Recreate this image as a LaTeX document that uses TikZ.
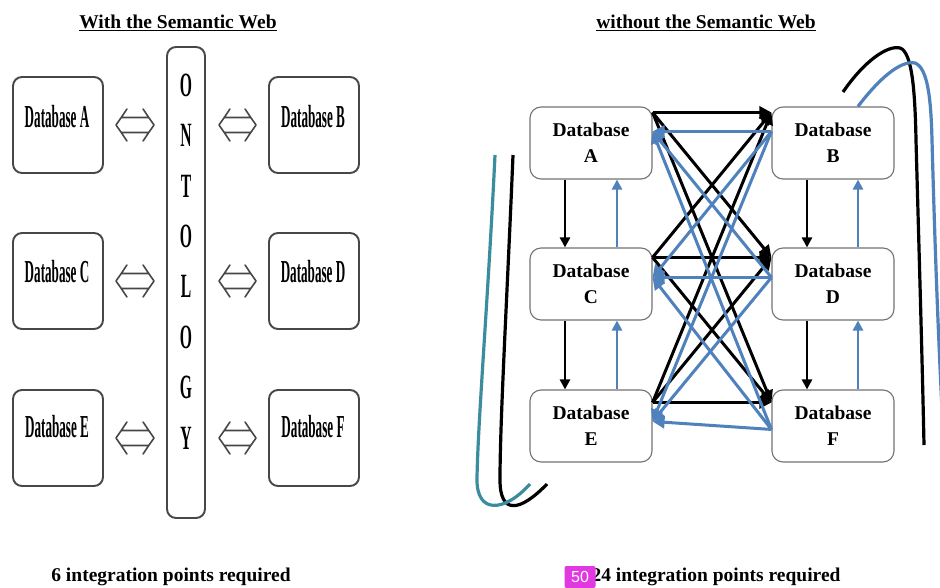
\documentclass[tikz,border=0pt]{standalone}
\usepackage{fontspec}
\setmainfont{Liberation Serif}
\newfontfamily\badgefont{Liberation Sans}
\usepackage{graphicx}
\usetikzlibrary{arrows.meta,calc}
\definecolor{dbblue}{RGB}{79,129,189}
\definecolor{dbteal}{RGB}{60,140,160}
\definecolor{badgecol}{RGB}{226,56,226}
\newcommand{\narrowtxt}[2][0.41]{\scalebox{#1}[1]{#2}}
\begin{document}
\begin{tikzpicture}[x=1pt,y=-1pt,
  lbox/.style={draw=black!72, line width=1.9pt, rounded corners=9pt, minimum width=90pt, minimum height=96pt, inner sep=0pt},
  ltext/.style={font=\bfseries\fontsize{32}{36}\selectfont, inner sep=0pt},
  ontbox/.style={draw=black!72, line width=1.9pt, rounded corners=9pt, minimum width=38pt, minimum height=471pt, inner sep=0pt},
  ontl/.style={font=\bfseries\fontsize{34}{50.4}\selectfont, align=center, inner sep=0pt},
  dblar/.style={draw=black!72, line width=1.6pt, line join=round, line cap=round,
    to path={let \p1=(\tikztostart), \p2=(\tikztotarget) in
      (\x1+11pt,\y1+16pt) .. controls (\x1+5pt,\y1+7pt) .. (\x1,\y1) .. controls (\x1+5pt,\y1-7pt) .. (\x1+11pt,\y1-16pt)
      (\x2-11pt,\y1+16pt) .. controls (\x2-5pt,\y1+7pt) .. (\x2,\y1) .. controls (\x2-5pt,\y1-7pt) .. (\x2-11pt,\y1-16pt)
      (\x1+5.5pt,\y1+7.5pt) -- (\x2-5.5pt,\y1+7.5pt)
      (\x1+5.5pt,\y1-7.5pt) -- (\x2-5.5pt,\y1-7.5pt)}},
  rbox/.style={draw=black!55, line width=1.1pt, rounded corners=11pt, fill=white, minimum width=122pt, minimum height=72pt, align=center, font=\bfseries\fontsize{19.5}{26}\selectfont, inner sep=0pt},
  blk/.style={draw=black, line width=3pt, -{Triangle[length=12pt,width=12pt]}},
  blu/.style={draw=dbblue, line width=3pt, -{Triangle[length=12pt,width=12pt]}},
  vblk/.style={draw=black, line width=2.6pt, -{Triangle[length=10pt,width=10pt]}},
  vblu/.style={draw=dbblue, line width=2.6pt, -{Triangle[length=10pt,width=10pt]}},
  curveblk/.style={draw=black, line width=3.2pt},
  curveblu/.style={draw=dbblue, line width=3.2pt},
  curveteal/.style={draw=dbteal, line width=3.2pt},
  titletxt/.style={font=\bfseries\fontsize{19.5}{22}\selectfont, inner sep=0pt},
  foottxt/.style={font=\bfseries\fontsize{19.5}{22}\selectfont, inner sep=0pt},
  badgebox/.style={fill=badgecol, text=white, font=\badgefont\fontsize{16}{18}\selectfont, minimum width=31pt, minimum height=22pt, inner sep=0pt, rounded corners=2pt},
]
\fill[white] (0,0) rectangle (940,588);
\clip (0,0) rectangle (940,588);

% ---------- titles ----------
\node[titletxt] (t1) at (178,23) {\underline{With the Semantic Web}};
\node[titletxt] (t2) at (706,23) {\underline{without the Semantic Web}};

% ---------- left: with ontology ----------
\node[lbox] (LA) at (58,125) {};
\node[lbox] (LC) at (58,281) {};
\node[lbox] (LE) at (58,438) {};
\node[lbox] (LB) at (314,125) {};
\node[lbox] (LD) at (314,281) {};
\node[lbox] (LF) at (314,438) {};
\node[ltext] (LAt) at (57,117) {\narrowtxt{Database A}};
\node[ltext] (LCt) at (57,272) {\narrowtxt{Database C}};
\node[ltext] (LEt) at (57,427) {\narrowtxt{Database E}};
\node[ltext] (LBt) at (313,117) {\narrowtxt{Database B}};
\node[ltext] (LDt) at (313,272) {\narrowtxt{Database D}};
\node[ltext] (LFt) at (313,427) {\narrowtxt{Database F}};

\node[ontbox] (ONT) at (186,282.5) {};
\node[ontl] (ONTt) at (186,261.5) {\narrowtxt[0.46]{O}\\\narrowtxt[0.46]{N}\\\narrowtxt[0.46]{T}\\\narrowtxt[0.46]{O}\\\narrowtxt[0.46]{L}\\\narrowtxt[0.46]{O}\\\narrowtxt[0.46]{G}\\\narrowtxt[0.46]{Y}};

\draw[dblar] ([xshift=12pt]LA.east) to ([xshift=-12pt]LA.east -| ONT.west);
\draw[dblar] ([xshift=12pt]LC.east) to ([xshift=-12pt]LC.east -| ONT.west);
\draw[dblar] ([xshift=12pt]LE.east) to ([xshift=-12pt]LE.east -| ONT.west);
\draw[dblar] ([xshift=13pt]ONT.east |- LB.west) to ([xshift=-12pt]LB.west);
\draw[dblar] ([xshift=13pt]ONT.east |- LD.west) to ([xshift=-12pt]LD.west);
\draw[dblar] ([xshift=13pt]ONT.east |- LF.west) to ([xshift=-12pt]LF.west);

% ---------- right: point to point ----------
\node[rbox] (RA) at (591,143) {Database\\A};
\node[rbox] (RB) at (833,143) {Database\\B};
\node[rbox] (RC) at (591,284) {Database\\C};
\node[rbox] (RD) at (833,284) {Database\\D};
\node[rbox] (RE) at (591,426) {Database\\E};
\node[rbox] (RF) at (833,426) {Database\\F};

% ports
\coordinate (aO) at ([yshift=-6pt]RA.north east);
\coordinate (cO) at ([yshift=-10pt]RC.north east);
\coordinate (eO) at ([yshift=-13pt]RE.north east);
\coordinate (bI) at ([yshift=-6pt]RB.north west);
\coordinate (dI) at ([yshift=-10pt]RD.north west);
\coordinate (fI) at ([yshift=-13pt]RF.north west);
\coordinate (aI) at ([yshift=-25pt]RA.north east);
\coordinate (cI) at ([yshift=-30pt]RC.north east);
\coordinate (eI) at ([yshift=-32pt]RE.north east);
\coordinate (bO) at ([yshift=-25pt]RB.north west);
\coordinate (dO) at ([yshift=-30pt]RD.north west);
\coordinate (fO) at ([yshift=-40pt]RF.north west);

\foreach \s in {aO,cO,eO}{\foreach \t in {bI,dI,fI}{\draw[blk] (\s) -- (\t);}}
\foreach \s in {bO,dO,fO}{\foreach \t in {aI,cI,eI}{\draw[blu] (\s) -- (\t);}}

% vertical arrows
\draw[vblk] ([xshift=-26pt]RA.south) -- ([xshift=-26pt]RC.north);
\draw[vblu] ([xshift=26pt]RC.north) -- ([xshift=26pt]RA.south);
\draw[vblk] ([xshift=-26pt]RC.south) -- ([xshift=-26pt]RE.north);
\draw[vblu] ([xshift=26pt]RE.north) -- ([xshift=26pt]RC.south);
\draw[vblk] ([xshift=-26pt]RB.south) -- ([xshift=-26pt]RD.north);
\draw[vblu] ([xshift=25pt]RD.north) -- ([xshift=25pt]RB.south);
\draw[vblk] ([xshift=-26pt]RD.south) -- ([xshift=-26pt]RF.north);
\draw[vblu] ([xshift=25pt]RF.north) -- ([xshift=25pt]RD.south);

% long curves
\coordinate (rkS) at (843,92);
\coordinate (rkE) at (924,445);
\draw[curveblk] (rkS) .. controls (865,60) and (888,45) .. (900,48) .. controls (912,52) and (915,90) .. (916,140) .. controls (919,250) and (922,350) .. (rkE);
\coordinate (ruE) at (943,430);
\draw[curveblu] ([xshift=25pt]RB.north) .. controls (878,80) and (900,60) .. (915,63) .. controls (928,68) and (931,100) .. (932,140) .. controls (935,250) and (938,330) .. (ruE);
\coordinate (lkS) at (513,155);
\coordinate (lkE) at (547,484);
\draw[curveblk] (lkS) .. controls (507,300) and (500,420) .. (500,480) .. controls (500,515) and (520,512) .. (lkE);
\coordinate (ltS) at (495,155);
\coordinate (ltE) at (530,484);
\draw[curveteal] (ltS) .. controls (488,300) and (478,420) .. (477,478) .. controls (476,515) and (505,512) .. (ltE);

% ---------- footers ----------
\node[foottxt] (f1) at (171,577) {6 integration points required};
\node[foottxt] (f2) at (716,577) {24 integration points required};
\node[badgebox] (bdg) at (580,577) {50};
\end{tikzpicture}
\end{document}
